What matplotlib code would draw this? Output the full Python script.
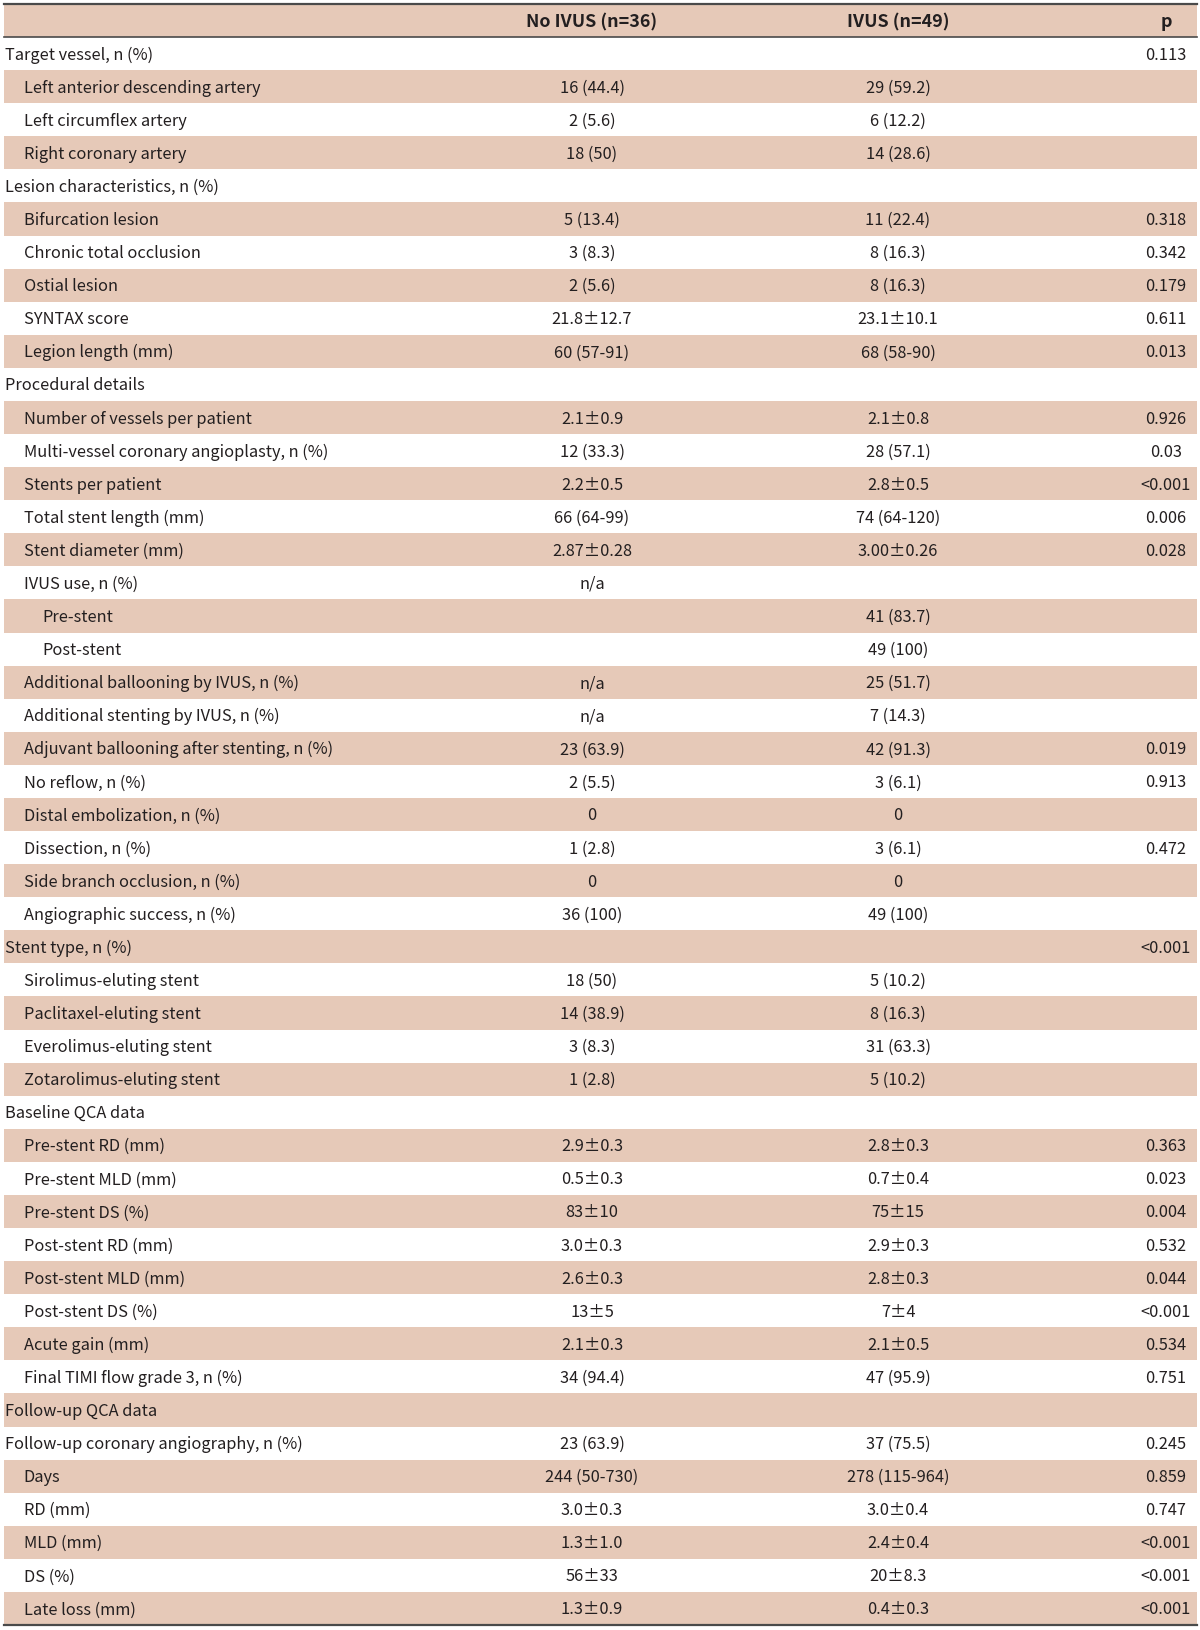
import matplotlib.pyplot as plt
from matplotlib.patches import Rectangle

plt.rcParams['font.family'] = ['Noto Sans CJK KR', 'DejaVu Sans']

headers = ['', 'No IVUS (n=36)', 'IVUS (n=49)', 'p']

labels = [
    'Target vessel, n (%)', 'Left anterior descending artery', 'Left circumflex artery',
    'Right coronary artery', 'Lesion characteristics, n (%)', 'Bifurcation lesion',
    'Chronic total occlusion', 'Ostial lesion', 'SYNTAX score', 'Legion length (mm)',
    'Procedural details', 'Number of vessels per patient',
    'Multi-vessel coronary angioplasty, n (%)', 'Stents per patient',
    'Total stent length (mm)', 'Stent diameter (mm)', 'IVUS use, n (%)', 'Pre-stent',
    'Post-stent', 'Additional ballooning by IVUS, n (%)', 'Additional stenting by IVUS, n (%)',
    'Adjuvant ballooning after stenting, n (%)', 'No reflow, n (%)',
    'Distal embolization, n (%)', 'Dissection, n (%)', 'Side branch occlusion, n (%)',
    'Angiographic success, n (%)', 'Stent type, n (%)', 'Sirolimus-eluting stent',
    'Paclitaxel-eluting stent', 'Everolimus-eluting stent', 'Zotarolimus-eluting stent',
    'Baseline QCA data', 'Pre-stent RD (mm)', 'Pre-stent MLD (mm)', 'Pre-stent DS (%)',
    'Post-stent RD (mm)', 'Post-stent MLD (mm)', 'Post-stent DS (%)', 'Acute gain (mm)',
    'Final TIMI flow grade 3, n (%)', 'Follow-up QCA data',
    'Follow-up coronary angiography, n (%)', 'Days', 'RD (mm)', 'MLD (mm)', 'DS (%)',
    'Late loss (mm)',
]

indent = [0, 1, 1, 1, 0, 1, 1, 1, 1, 1, 0, 1, 1, 1, 1, 1, 1, 2, 2, 1, 1, 1, 1, 1, 1, 1, 1,
          0, 1, 1, 1, 1, 0, 1, 1, 1, 1, 1, 1, 1, 1, 0, 0, 1, 1, 1, 1, 1]

no_ivus = [
    '', '16 (44.4)', '2 (5.6)', '18 (50)', '', '5 (13.4)', '3 (8.3)', '2 (5.6)',
    '21.8±12.7', '60 (57-91)', '', '2.1±0.9', '12 (33.3)', '2.2±0.5', '66 (64-99)',
    '2.87±0.28', 'n/a', '', '', 'n/a', 'n/a', '23 (63.9)', '2 (5.5)', '0', '1 (2.8)', '0',
    '36 (100)', '', '18 (50)', '14 (38.9)', '3 (8.3)', '1 (2.8)', '', '2.9±0.3', '0.5±0.3',
    '83±10', '3.0±0.3', '2.6±0.3', '13±5', '2.1±0.3', '34 (94.4)', '', '23 (63.9)',
    '244 (50-730)', '3.0±0.3', '1.3±1.0', '56±33', '1.3±0.9',
]

ivus = [
    '', '29 (59.2)', '6 (12.2)', '14 (28.6)', '', '11 (22.4)', '8 (16.3)', '8 (16.3)',
    '23.1±10.1', '68 (58-90)', '', '2.1±0.8', '28 (57.1)', '2.8±0.5', '74 (64-120)',
    '3.00±0.26', '', '41 (83.7)', '49 (100)', '25 (51.7)', '7 (14.3)', '42 (91.3)',
    '3 (6.1)', '0', '3 (6.1)', '0', '49 (100)', '', '5 (10.2)', '8 (16.3)', '31 (63.3)',
    '5 (10.2)', '', '2.8±0.3', '0.7±0.4', '75±15', '2.9±0.3', '2.8±0.3', '7±4', '2.1±0.5',
    '47 (95.9)', '', '37 (75.5)', '278 (115-964)', '3.0±0.4', '2.4±0.4', '20±8.3',
    '0.4±0.3',
]

p_val = [
    '0.113', '', '', '', '', '0.318', '0.342', '0.179', '0.611', '0.013', '', '0.926',
    '0.03', '<0.001', '0.006', '0.028', '', '', '', '', '', '0.019', '0.913', '', '0.472',
    '', '', '<0.001', '', '', '', '', '', '0.363', '0.023', '0.004', '0.532', '0.044',
    '<0.001', '0.534', '0.751', '', '0.245', '0.859', '0.747', '<0.001', '<0.001', '<0.001',
]

shade = '#e6c9b8'
txt = '#231f20'
line_c = '#4a4a4a'

fig = plt.figure(figsize=(12, 16.3), dpi=100)
ax = fig.add_axes([0, 0, 1, 1])
ax.set_xlim(0, 1200)
ax.set_ylim(1630, 0)
ax.axis('off')

top, bottom = 4, 1625
left, right = 4, 1197
n_rows = len(labels) + 1
rh = (bottom - top) / n_rows
fs = 11.8
dy = 1.5  # text sits a touch low in the cell

col_x = [None, 592, 898, 1166]

# header row
ax.add_patch(Rectangle((left, top), right - left, rh, color=shade, lw=0, zorder=0))
for j in range(1, 4):
    ax.text(col_x[j], top + rh / 2 + dy, headers[j], ha='center', va='center',
            fontsize=12.9, fontweight='bold', color=txt)

for i, lab in enumerate(labels):
    r = i + 1
    y0 = top + r * rh
    yc = y0 + rh / 2 + dy
    if r % 2 == 0:
        ax.add_patch(Rectangle((left, y0), right - left, rh, color=shade, lw=0, zorder=0))
    ax.text(5 + 18.5 * indent[i], yc, lab, ha='left', va='center', fontsize=fs, color=txt)
    ax.text(col_x[1], yc, no_ivus[i], ha='center', va='center', fontsize=fs, color=txt)
    ax.text(col_x[2], yc, ivus[i], ha='center', va='center', fontsize=fs, color=txt)
    ax.text(col_x[3], yc, p_val[i], ha='center', va='center', fontsize=fs, color=txt)

ax.plot([left, right], [top, top], color=line_c, lw=1.6)
ax.plot([left, right], [top + rh, top + rh], color=line_c, lw=1.2)
ax.plot([left, right], [bottom, bottom], color=line_c, lw=1.6)

fig.savefig('out.png', dpi=100)
